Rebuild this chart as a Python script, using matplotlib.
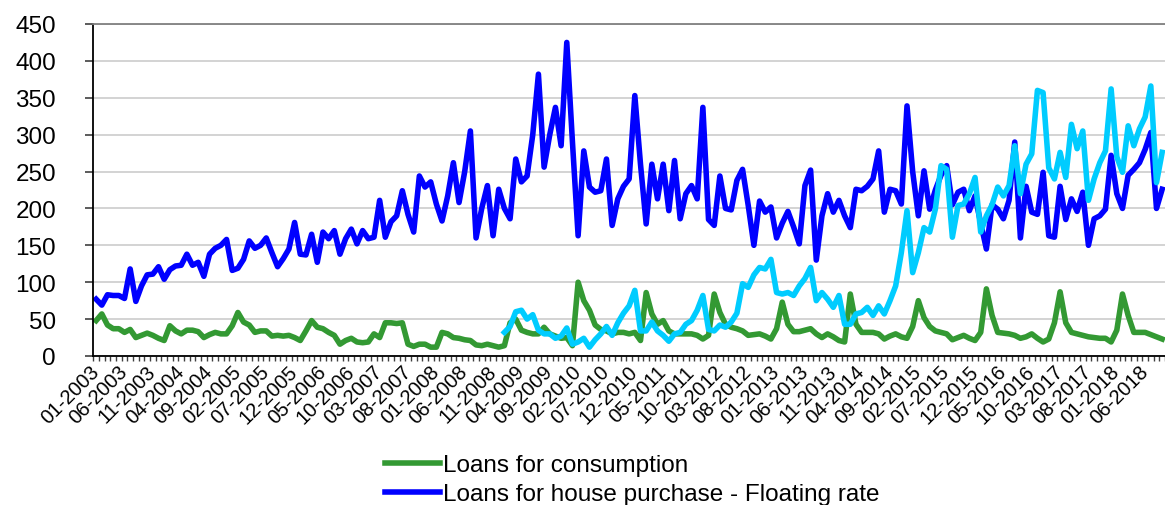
import numpy as np
import matplotlib
matplotlib.use("Agg")
import matplotlib.pyplot as plt

plt.rcParams['font.family'] = ['Liberation Sans', 'DejaVu Sans']

# Monthly categories 01-2003 .. 09-2018
months = [f"{m:02d}-{y}" for y in range(2003, 2019) for m in range(1, 13)][:189]

consumption = [
    48, 57, 42, 37, 37, 32, 36, 25, 28, 31, 28, 24, 21, 41, 34, 30, 35, 35, 33, 25,
    29, 32, 30, 30, 41, 59, 46, 42, 32, 34, 34, 27, 28, 27, 28, 25, 21, 34, 48, 39,
    37, 32, 28, 16, 21, 24, 19, 18, 19, 30, 25, 45, 45, 44, 45, 16, 13, 16, 16, 12,
    12, 32, 30, 25, 24, 22, 21, 15, 14, 16, 14, 12, 14, 45, 50, 35, 32, 30, 30, 39,
    30, 27, 24, 25, 14, 100, 75, 62, 42, 36, 34, 30, 32, 32, 30, 32, 21, 86, 57, 43,
    48, 34, 30, 30, 30, 30, 28, 23, 28, 84, 59, 43, 39, 37, 34, 28, 29, 30, 27, 23,
    37, 73, 43, 33, 33, 35, 37, 30, 25, 30, 26, 21, 19, 84, 43, 32, 32, 32, 30, 23,
    27, 30, 26, 24, 40, 75, 52, 40, 34, 32, 30, 22, 25, 28, 24, 21, 32, 91, 55, 32,
    31, 30, 28, 24, 26, 30, 24, 19, 23, 45, 87, 45, 32, 30, 28, 26, 25, 24, 24, 19,
    35, 84, 55, 32, 32, 32, 29, 26, 23,
]

floating = [
    77, 69, 83, 82, 82, 78, 118, 74, 95, 110, 111, 121, 104, 117, 122, 123, 138, 123, 127, 108,
    138, 146, 150, 158, 116, 119, 131, 156, 146, 150, 160, 140, 121, 132, 145, 181, 138, 137, 165, 127,
    168, 159, 170, 138, 159, 172, 152, 170, 159, 161, 211, 161, 182, 190, 224, 192, 168, 244, 229, 236,
    206, 183, 217, 262, 208, 250, 305, 160, 200, 231, 163, 226, 200, 186, 267, 236, 244, 300, 382, 256,
    300, 337, 285, 425, 290, 163, 278, 229, 222, 224, 267, 177, 213, 230, 240, 353, 260, 179, 260, 213,
    260, 197, 265, 186, 220, 231, 213, 337, 185, 177, 244, 200, 198, 238, 253, 204, 150, 210, 195, 202,
    160, 180, 196, 175, 152, 231, 252, 130, 190, 220, 195, 211, 190, 174, 226, 224, 230, 240, 278, 195,
    226, 224, 206, 339, 250, 190, 251, 199, 225, 245, 258, 205, 222, 226, 197, 217, 180, 145, 205, 199,
    186, 211, 290, 160, 230, 195, 192, 249, 163, 161, 230, 185, 213, 196, 222, 150, 186, 190, 199, 272,
    220, 200, 245, 253, 262, 280, 303, 200, 226,
]

# Fixed rate series starts 01-2009
fixed_start = "01-2009"
fixed = [
    32, 40, 60, 62, 50, 56, 35, 30, 30, 24, 27, 38, 16, 19, 24, 12, 22, 30, 40, 28,
    45, 58, 68, 89, 34, 34, 46, 34, 28, 20, 30, 32, 43, 48, 62, 82, 36, 34, 42, 39,
    46, 58, 98, 93, 110, 120, 118, 131, 86, 84, 86, 82, 95, 105, 120, 75, 86, 77, 66, 82,
    43, 43, 57, 59, 66, 55, 68, 57, 75, 95, 140, 197, 113, 140, 174, 168, 199, 258, 253, 161,
    204, 206, 220, 242, 168, 190, 205, 229, 217, 231, 285, 220, 260, 274, 360, 357, 255, 240, 276, 242,
    314, 281, 305, 211, 240, 262, 278, 362, 270, 249, 312, 285, 308, 324, 366, 235, 276,
]

labels = ["Loans for consumption",
          "Loans for house purchase - Floating rate"]
colors = ["#339933", "#0000FF", "#00CCFF"]

W, H = 1165, 506
fig = plt.figure(figsize=(W / 100, H / 100), dpi=100)
ax = fig.add_axes([93.3 / W, (H - 357) / H, (W - 93.3) / W, 332 / H])

x = np.arange(len(months))
s0 = months.index(fixed_start)
x_fixed = x[s0:s0 + len(fixed)]

lw = 4.0
ax.plot(x, consumption, color=colors[0], lw=lw, label=labels[0], solid_joinstyle='round')
ax.plot(x, floating, color=colors[1], lw=lw, label=labels[1], solid_joinstyle='round')
ax.plot(x_fixed, fixed, color=colors[2], lw=lw, solid_joinstyle='round')

ax.set_xlim(-0.5, len(months) - 0.5)
ax.set_ylim(0, 450)
ax.set_yticks(np.arange(0, 451, 50))
ax.yaxis.grid(True, color="#D0D0D0", lw=1.3)
ax.set_axisbelow(True)

ax.spines['right'].set_visible(False)
ax.spines['top'].set_color('#808080')
ax.spines['top'].set_linewidth(1.3)
ax.spines['left'].set_color('black')
ax.spines['left'].set_linewidth(1.3)
ax.spines['bottom'].set_color('black')
ax.spines['bottom'].set_linewidth(1.3)

ax.tick_params(axis='y', direction='out', length=5.8, width=1.2, color='#404040',
               labelsize=17.5, pad=21)

tick_idx = list(range(0, len(months), 5))
ax.set_xticks(tick_idx)
ax.set_xticklabels([months[i] for i in tick_idx])
ax.set_xticks(np.arange(-0.5, len(months), 1), minor=True)
ax.tick_params(axis='x', which='major', length=0, labelsize=14.5, pad=9)
ax.tick_params(axis='x', which='minor', direction='out', length=3.6, width=1.0, color='#404040')
for t in ax.get_xticklabels():
    t.set_rotation(45)
    t.set_ha('right')
    t.set_va('center')
    t.set_rotation_mode('anchor')

leg = fig.legend(loc='upper left', bbox_to_anchor=(385 / W, 1 - 455 / H),
                 frameon=False, fontsize=17.5, handlelength=2.25, handletextpad=0.12,
                 borderpad=0, borderaxespad=0, labelspacing=0.3)
for line in leg.get_lines():
    line.set_linewidth(lw)

fig.savefig("out.png", dpi=100)
